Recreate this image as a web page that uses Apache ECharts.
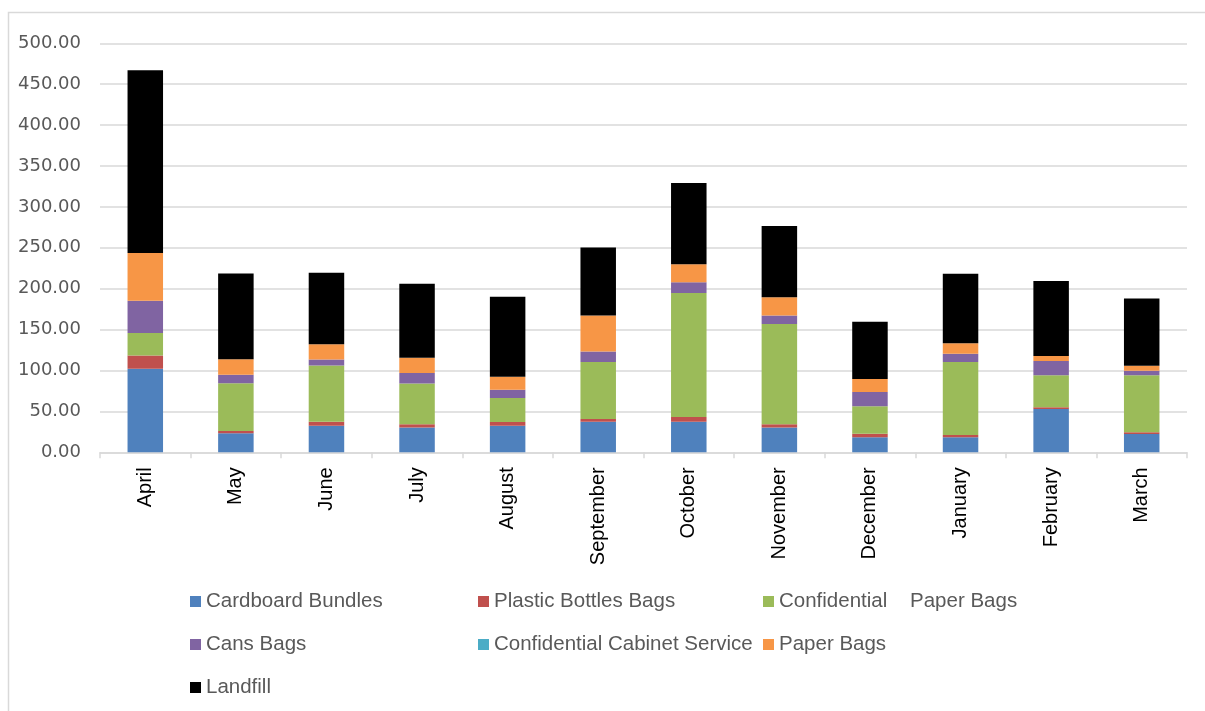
<!DOCTYPE html>
<html>
<head>
<meta charset="utf-8">
<script src="https://cdn.jsdelivr.net/npm/echarts@6/dist/echarts.min.js"></script>
<style>
html,body{margin:0;padding:0;background:#fff;}
#chart{width:1205px;height:711px;}
</style>
</head>
<body>
<div id="chart"></div>
<script>
const months = ['April','May','June','July','August','September','October','November','December','January','February','March'];
const cardboardBundles   = [102.0, 23.3, 32.6, 30.2, 32.6, 37.5, 37.5, 30.2, 18.3, 18.3, 53.0, 22.4];
const plasticBottlesBags = [16.3, 2.8, 4.9, 4.0, 4.5, 3.3, 5.7, 4.0, 4.5, 2.9, 2.0, 2.1];
const confidentialPaper  = [27.4, 58.4, 68.5, 49.8, 29.3, 69.7, 151.6, 122.7, 33.4, 89.2, 39.1, 69.6];
const cansBags           = [39.5, 10.2, 7.3, 13.0, 10.2, 12.7, 13.0, 10.2, 17.6, 10.2, 17.6, 5.7];
const cabinetService     = [0, 0, 0, 0, 0, 0, 0, 0, 0, 0, 0, 0];
const paperBags          = [58.4, 19.1, 18.7, 18.7, 15.9, 44.0, 22.0, 22.4, 15.9, 12.7, 6.1, 6.1];
const landfill           = [223.4, 104.9, 87.6, 90.5, 97.8, 83.1, 99.5, 87.2, 70.0, 85.1, 91.7, 82.0];

const seriesDefs = [
  {name: 'Cardboard Bundles', data: cardboardBundles, color: '#4F81BD'},
  {name: 'Plastic Bottles Bags', data: plasticBottlesBags, color: '#C0504D'},
  {name: 'Confidential    Paper Bags', data: confidentialPaper, color: '#9BBB59'},
  {name: 'Cans Bags', data: cansBags, color: '#8064A2'},
  {name: 'Confidential Cabinet Service', data: cabinetService, color: '#4BACC6'},
  {name: 'Paper Bags', data: paperBags, color: '#F79646'},
  {name: 'Landfill', data: landfill, color: '#000000'}
];

const chart = echarts.init(document.getElementById('chart'), null, {renderer: 'canvas'});

const legendBase = {
  orient: 'vertical',
  top: 591,
  padding: 0,
  itemWidth: 11,
  itemHeight: 11,
  itemGap: 22,
  icon: 'rect',
  selectedMode: false,
  textStyle: {fontFamily: 'Liberation Sans', fontSize: 20.5, color: '#595959', lineHeight: 20.5}
};

const option = {
  backgroundColor: '#ffffff',
  animation: false,
  graphic: [{
    type: 'rect',
    shape: {x: 8.5, y: 12.5, width: 1400, height: 900},
    style: {fill: 'none', stroke: '#d9d9d9', lineWidth: 1.5},
    silent: true
  }],
  legend: [
    Object.assign({}, legendBase, {left: 190, data: ['Cardboard Bundles', 'Cans Bags', 'Landfill']}),
    Object.assign({}, legendBase, {left: 478, data: ['Plastic Bottles Bags', 'Confidential Cabinet Service']}),
    Object.assign({}, legendBase, {left: 763, data: ['Confidential    Paper Bags', 'Paper Bags']})
  ],
  grid: {left: 100, right: 18, top: 43.3, bottom: 258.7, containLabel: false},
  xAxis: {
    type: 'category',
    data: months,
    boundaryGap: true,
    axisLine: {show: true, lineStyle: {color: '#d9d9d9', width: 1.5}},
    axisTick: {show: true, length: 6, lineStyle: {color: '#d9d9d9', width: 1.5}},
    axisLabel: {
      rotate: 90,
      margin: 15,
      interval: 0,
      fontFamily: 'Liberation Sans',
      fontSize: 20,
      color: '#000000'
    }
  },
  yAxis: {
    type: 'value',
    min: 0,
    max: 500,
    interval: 50,
    axisLine: {show: false},
    axisTick: {show: false},
    splitLine: {show: true, lineStyle: {color: '#d9d9d9', width: 1.5}},
    axisLabel: {
      margin: 19,
      fontFamily: 'DejaVu Sans',
      fontSize: 18,
      color: '#595959',
      formatter: v => v.toFixed(2)
    }
  },
  series: seriesDefs.map(s => ({
    name: s.name,
    type: 'bar',
    stack: 'total',
    data: s.data,
    barWidth: 35.5,
    itemStyle: {color: s.color},
    emphasis: {disabled: true}
  }))
};

chart.setOption(option);
</script>
</body>
</html>
